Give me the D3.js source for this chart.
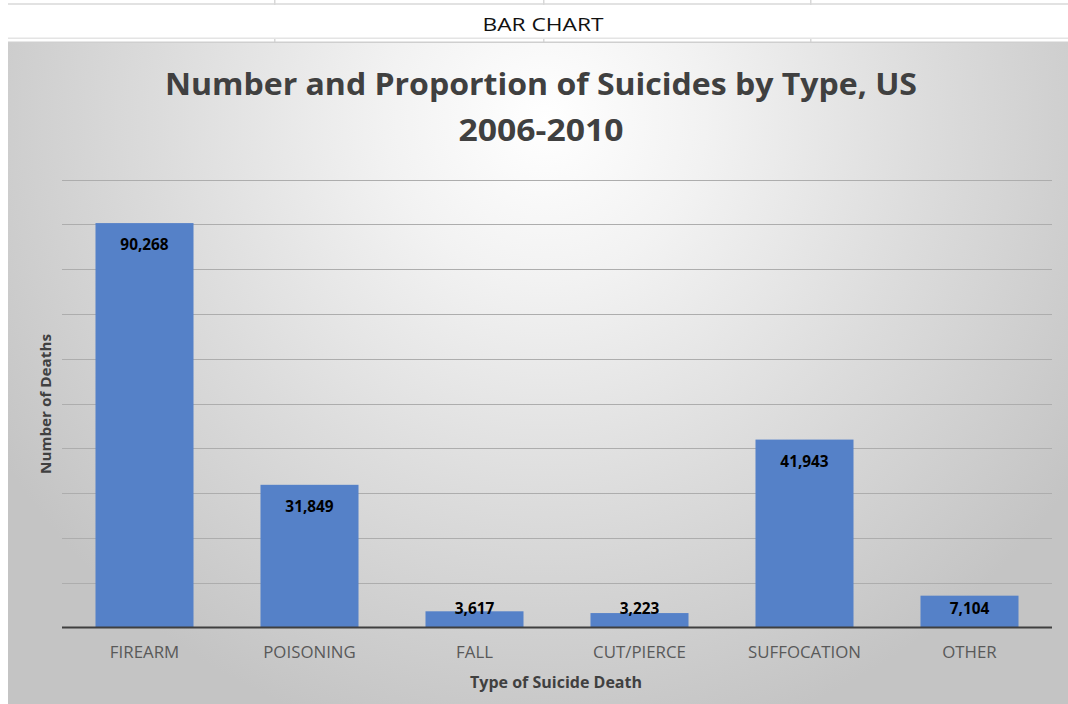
<!DOCTYPE html>
<html>
<head>
<meta charset="utf-8">
<script src="https://cdn.jsdelivr.net/npm/d3@7"></script>
<style>
  html, body { margin: 0; padding: 0; background: #ffffff; }
  svg { display: block; }
</style>
</head>
<body>
<script>
// Suicide deaths by method, US 2006-2010
const categories = ["FIREARM", "POISONING", "FALL", "CUT/PIERCE", "SUFFOCATION", "OTHER"];
const deaths = [90268, 31849, 3617, 3223, 41943, 7104];
const gridTicks = [0, 10000, 20000, 30000, 40000, 50000, 60000, 70000, 80000, 90000, 100000];

const W = 1068, H = 704;
const svg = d3.select("body").append("svg").attr("width", W).attr("height", H);

const defs = svg.append("defs");
const grad = defs.append("radialGradient")
  .attr("id", "bg")
  .attr("gradientUnits", "userSpaceOnUse")
  .attr("cx", 545).attr("cy", 120).attr("r", 640)
  .attr("fx", 545).attr("fy", 120);
grad.append("stop").attr("offset", "0%").attr("stop-color", "#ffffff");
grad.append("stop").attr("offset", "25%").attr("stop-color", "#f2f2f2");
grad.append("stop").attr("offset", "60%").attr("stop-color", "#dcdcdc");
grad.append("stop").attr("offset", "100%").attr("stop-color", "#c4c4c4");

// Spreadsheet header row
const sheet = svg.append("g");
sheet.append("rect").attr("x", 8).attr("y", 3).attr("width", W - 8).attr("height", 2).attr("fill", "#e2e2e2");
[274, 543, 810].forEach(x => {
  sheet.append("rect").attr("x", x).attr("y", 0).attr("width", 1.5).attr("height", 5).attr("fill", "#d8d8d8");
  sheet.append("rect").attr("x", x).attr("y", 38).attr("width", 1.5).attr("height", 5).attr("fill", "#d8d8d8");
});
sheet.append("rect").attr("x", 8).attr("y", 37.5).attr("width", W - 8).attr("height", 1.5).attr("fill", "#e4e4e4");
sheet.append("rect").attr("x", 8).attr("y", 41.5).attr("width", W - 8).attr("height", 1.5).attr("fill", "#cfcfcf");
sheet.append("text")
  .attr("x", 543).attr("y", 31)
  .attr("text-anchor", "middle")
  .attr("font-family", "'Open Sans', sans-serif")
  .attr("font-size", 19)
  .attr("fill", "#111")
  .text("BAR CHART")
  .attr("textLength", 121).attr("lengthAdjust", "spacingAndGlyphs");

// Chart area
svg.append("rect").attr("x", 8).attr("y", 43).attr("width", W - 8).attr("height", H - 43).attr("fill", "url(#bg)");

const x = d3.scaleBand().domain(categories).range([62, 1052]).paddingInner(0.406).paddingOuter(0.203);
const y = d3.scaleLinear().domain([0, 100000]).range([627.5, 179.5]);

// Gridlines
svg.append("g")
  .selectAll("line")
  .data(gridTicks.slice(1))
  .join("line")
  .attr("x1", 62).attr("x2", 1052)
  .attr("y1", d => Math.round(y(d)) + 0.5).attr("y2", d => Math.round(y(d)) + 0.5)
  .attr("stroke", "#adadad").attr("stroke-width", 1);

// Bars
svg.append("g")
  .selectAll("rect")
  .data(deaths)
  .join("rect")
  .attr("x", (d, i) => x(categories[i]))
  .attr("y", d => y(d))
  .attr("width", x.bandwidth())
  .attr("height", d => y(0) - y(d))
  .attr("fill", "#5581c8");

// Baseline
svg.append("line")
  .attr("x1", 62).attr("x2", 1052)
  .attr("y1", y(0)).attr("y2", y(0))
  .attr("stroke", "#3f3f3f").attr("stroke-width", 2.2);

// Value labels (inside end)
svg.append("g")
  .selectAll("text")
  .data(deaths)
  .join("text")
  .attr("x", (d, i) => x(categories[i]) + x.bandwidth() / 2)
  .attr("y", d => Math.min(y(d) + 21, y(0) - 20) + 6)
  .attr("text-anchor", "middle")
  .attr("font-family", "'Open Sans', sans-serif")
  .attr("font-weight", "bold")
  .attr("font-size", 16)
  .attr("fill", "#000")
  .text(d => d3.format(",")(d))
  .each(function() {
    this.setAttribute("textLength", this.getComputedTextLength() * 0.96);
    this.setAttribute("lengthAdjust", "spacingAndGlyphs");
  });

// Category axis
const xAxis = svg.append("g")
  .attr("transform", `translate(0,${y(0)})`)
  .call(d3.axisBottom(x).tickSize(0).tickPadding(19));
xAxis.select(".domain").remove();
xAxis.selectAll("text")
  .attr("font-family", "'Open Sans', sans-serif")
  .attr("font-size", 16.5)
  .attr("fill", "#595959")
  .each(function() {
    this.setAttribute("textLength", this.getComputedTextLength() * 1.02);
    this.setAttribute("lengthAdjust", "spacingAndGlyphs");
  });

// Titles
const title = svg.append("g")
  .attr("font-family", "'Open Sans', sans-serif")
  .attr("font-weight", "bold")
  .attr("fill", "#404040")
  .attr("text-anchor", "middle");
title.append("text").attr("x", 541).attr("y", 95).attr("font-size", 30)
  .text("Number and Proportion of Suicides by Type, US")
  .attr("textLength", 752).attr("lengthAdjust", "spacingAndGlyphs");
title.append("text").attr("x", 541).attr("y", 141).attr("font-size", 30)
  .text("2006-2010")
  .attr("textLength", 165).attr("lengthAdjust", "spacingAndGlyphs");

svg.append("text")
  .attr("transform", "translate(51,404) rotate(-90)")
  .attr("text-anchor", "middle")
  .attr("font-family", "'Open Sans', sans-serif")
  .attr("font-weight", "bold")
  .attr("font-size", 14.5)
  .attr("fill", "#404040")
  .text("Number of Deaths")
  .attr("textLength", 140).attr("lengthAdjust", "spacingAndGlyphs");

svg.append("text")
  .attr("x", 556).attr("y", 688)
  .attr("text-anchor", "middle")
  .attr("font-family", "'Open Sans', sans-serif")
  .attr("font-weight", "bold")
  .attr("font-size", 15.5)
  .attr("fill", "#404040")
  .text("Type of Suicide Death")
  .attr("textLength", 172).attr("lengthAdjust", "spacingAndGlyphs");
</script>
</body>
</html>
